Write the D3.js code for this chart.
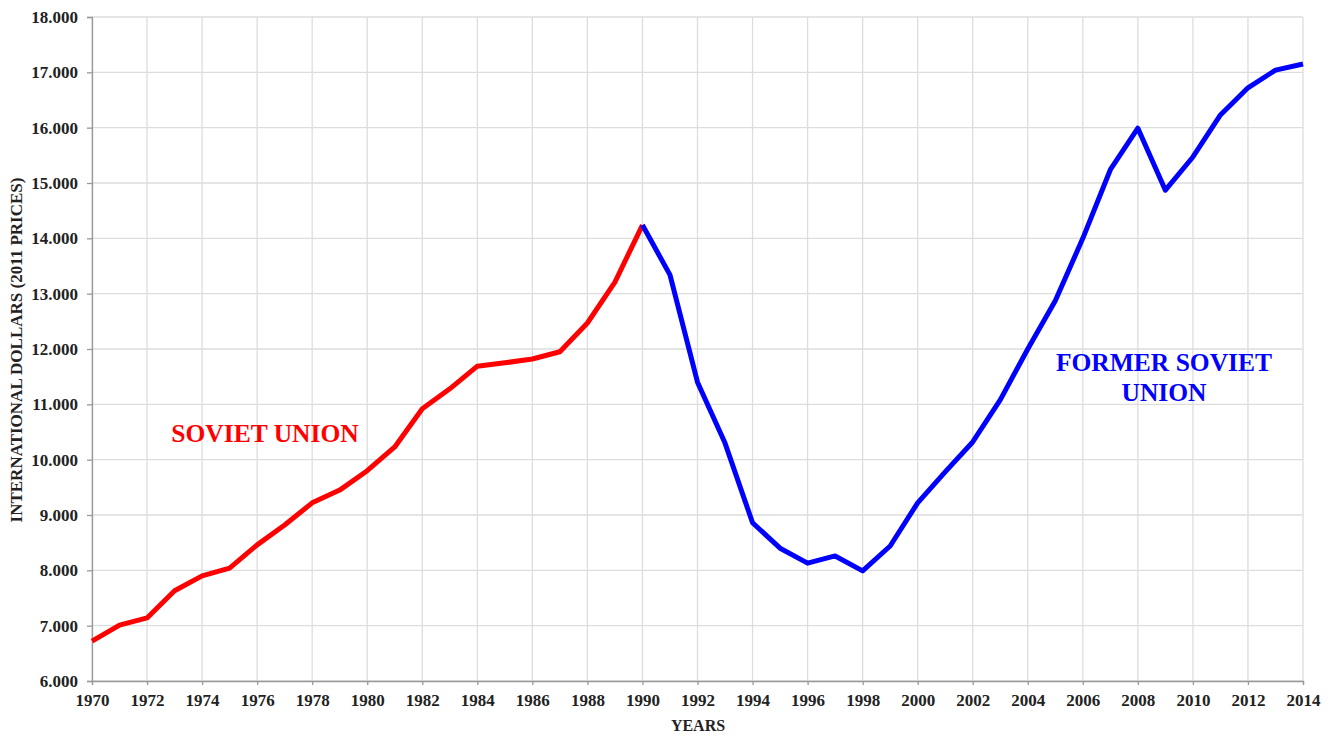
<!DOCTYPE html>
<html><head><meta charset="utf-8">
<script src="https://cdn.jsdelivr.net/npm/d3@7"></script>
<style>body{margin:0;background:#fff;}svg{display:block;}</style>
</head><body>
<svg id="c" width="1337" height="735"></svg>
<script>
const years = d3.range(1970, 2015);
const values = [6720,7010,7140,7630,7900,8040,8460,8820,9220,9450,9800,10230,10920,11280,11690,11750,11820,11950,12470,13210,14240,
  13340,11400,10300,8860,8400,8130,8260,7990,8440,9220,9780,10320,11080,12000,12870,14000,15240,15990,14870,15470,16230,16720,17040,17150];
const splitYear = 1990;
const yTicks = [6000,7000,8000,9000,10000,11000,12000,13000,14000,15000,16000,17000,18000];
const xTicks = d3.range(1970, 2015, 2);
const labelSoviet = "SOVIET UNION";
const labelFormer = ["FORMER SOVIET", "UNION"];
const yTitle = "INTERNATIONAL DOLLARS (2011 PRICES)";
const xTitle = "YEARS";

const data = years.map((y,i)=>({year:y, value:values[i]}));
const svg = d3.select("#c");
const m = {l:92, r:1303, t:17, b:681};
const x = d3.scaleLinear().domain([1970,2014]).range([m.l, m.r]);
const y = d3.scaleLinear().domain([6000,18000]).range([m.b, m.t]);
const font = "'Liberation Serif','Times New Roman',serif";

// grid
svg.append("g").selectAll("line").data(yTicks).join("line")
  .attr("x1", m.l).attr("x2", m.r).attr("y1", d=>y(d)).attr("y2", d=>y(d))
  .attr("stroke", "#dddddd").attr("stroke-width", 1.3);
svg.append("g").selectAll("line").data(xTicks).join("line")
  .attr("x1", d=>x(d)).attr("x2", d=>x(d)).attr("y1", m.t).attr("y2", m.b)
  .attr("stroke", "#dddddd").attr("stroke-width", 1.3);

// axes
const yAxis = svg.append("g").attr("transform", `translate(${m.l},0)`)
  .call(d3.axisLeft(y).tickValues(yTicks).tickSize(5).tickPadding(9)
    .tickFormat(d => d3.format(".3f")(d/1000)));
const xAxis = svg.append("g").attr("transform", `translate(0,${m.b})`)
  .call(d3.axisBottom(x).tickValues(xTicks).tickSize(4).tickPadding(9).tickFormat(d3.format("d")));
[yAxis, xAxis].forEach(a=>{
  a.select(".domain").attr("stroke", "#999").attr("stroke-width", 1.3);
  a.selectAll(".tick line").attr("stroke", "#999").attr("stroke-width", 1.3);
  a.selectAll("text").attr("font-family", font).attr("font-weight", "bold")
    .attr("font-size", 17).attr("fill", "#222");
});

const line = d3.line().x(d=>x(d.year)).y(d=>y(d.value));
svg.append("path").datum(data.filter(d=>d.year<=splitYear))
  .attr("d", line).attr("fill","none").attr("stroke","#ff0000")
  .attr("stroke-width", 5).attr("stroke-linejoin","round");
svg.append("path").datum(data.filter(d=>d.year>=splitYear))
  .attr("d", line).attr("fill","none").attr("stroke","#0000ff")
  .attr("stroke-width", 5).attr("stroke-linejoin","round");

svg.append("text").attr("x", 265).attr("y", 442).attr("text-anchor","middle")
  .attr("font-family", font).attr("font-weight","bold").attr("font-size", 25.5)
  .attr("fill","#ff0000").text(labelSoviet);
svg.append("text").attr("text-anchor","middle")
  .attr("font-family", font).attr("font-weight","bold").attr("font-size", 25.5)
  .attr("fill","#0000ff")
  .selectAll("tspan").data(labelFormer).join("tspan")
  .attr("x", 1164).attr("y", (d,i)=>371 + i*30).text(d=>d);

svg.append("text").attr("transform", `translate(22,${(m.t+m.b)/2 + 1}) rotate(-90)`)
  .attr("text-anchor","middle").attr("font-family", font).attr("font-weight","bold")
  .attr("font-size", 17).attr("fill","#222").text(yTitle);
svg.append("text").attr("x", 698).attr("y", 731).attr("text-anchor","middle")
  .attr("font-family", font).attr("font-weight","bold").attr("font-size", 16)
  .attr("fill","#222").text(xTitle);
</script>
</body></html>
